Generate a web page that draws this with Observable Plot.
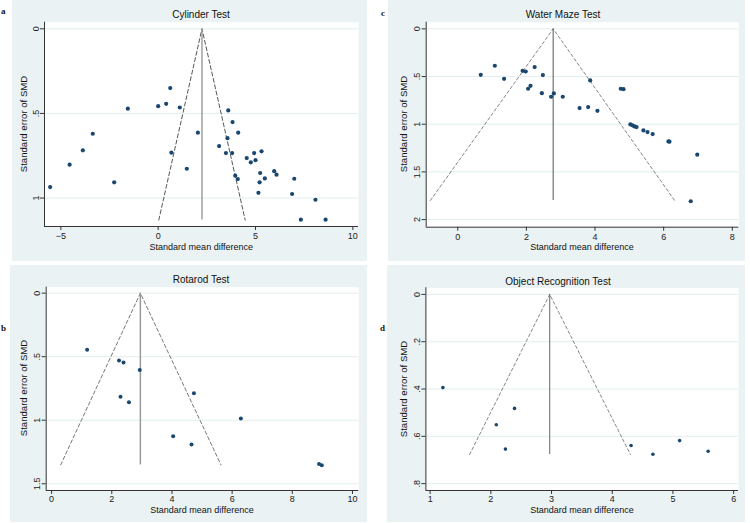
<!DOCTYPE html>
<html>
<head>
<meta charset="utf-8">
<script src="https://cdn.jsdelivr.net/npm/d3@7"></script>
<script src="https://cdn.jsdelivr.net/npm/@observablehq/plot@0.6"></script>
<style>
  html, body { margin: 0; padding: 0; background: #ffffff; }
  #root { position: relative; width: 750px; height: 523px; overflow: hidden; background: #ffffff; font-family: "Liberation Sans", Arial, sans-serif; }
  .bg { position: absolute; background: #eaf2f3; }
  .txt { position: absolute; white-space: nowrap; color: #111; transform: translate(-50%, -50%); line-height: 1; }
  .letter { position: absolute; font-family: "Liberation Serif", "Times New Roman", serif; font-weight: bold; font-size: 9px; color: #111; }
</style>
</head>
<body>
<div id="root"></div>
<script>
// ---------- Data ----------
// Panel a: Cylinder Test
const cylTitle = "Cylinder Test";
const cylSMD = [-5.55, -4.55, -3.87, -3.36, -2.26, -1.56, 0.00, 0.41, 0.62, 1.11, 0.68, 1.47, 2.04,
  3.60, 3.82, 4.11, 3.56, 3.13, 3.48, 3.80, 4.55, 4.76, 4.93, 5.00, 5.31, 3.96, 4.09, 5.24, 5.48,
  5.21, 5.96, 6.08, 6.99, 5.15, 6.88, 8.08, 7.33, 8.60];
const cylSE = [0.935, 0.803, 0.718, 0.620, 0.907, 0.472, 0.457, 0.443, 0.350, 0.465, 0.732, 0.827, 0.614,
  0.482, 0.551, 0.614, 0.646, 0.693, 0.734, 0.734, 0.764, 0.789, 0.734, 0.776, 0.724, 0.868, 0.888, 0.852, 0.884,
  0.907, 0.841, 0.862, 0.886, 0.969, 0.976, 1.010, 1.128, 1.128];
const cylFunnel = {center: 2.25, seMax: 1.13, left: 0.03, right: 4.47};
const cylXTicks = [-5, 0, 5, 10];
const cylYTicks = [0, 0.5, 1];

// Panel c: Water Maze Test
const wmTitle = "Water Maze Test";
const wmSMD = [0.67, 1.08, 1.35, 1.89, 1.98, 2.24, 2.48, 2.12, 2.05, 2.45, 2.72, 2.80, 3.06, 3.55, 3.80,
  4.07, 3.86, 4.75, 4.83, 5.03, 5.09, 5.15, 5.21, 5.41, 5.53, 5.68, 6.14, 6.17, 6.98, 6.79];
const wmSE = [0.482, 0.387, 0.524, 0.440, 0.447, 0.401, 0.485, 0.597, 0.628, 0.674, 0.712, 0.677, 0.712, 0.831, 0.820,
  0.859, 0.541, 0.628, 0.632, 1.002, 1.012, 1.023, 1.030, 1.065, 1.082, 1.103, 1.180, 1.183, 1.319, 1.808];
const wmFunnel = {center: 2.78, seMax: 1.80, left: -0.80, right: 6.32};
const wmXTicks = [0, 2, 4, 6, 8];
const wmYTicks = [0, 0.5, 1, 1.5, 2];

// Panel b: Rotarod Test
const rrTitle = "Rotarod Test";
const rrSMD = [1.18, 2.24, 2.39, 2.93, 2.29, 2.57, 4.73, 6.29, 4.04, 4.65, 8.89, 8.98];
const rrSE = [0.446, 0.530, 0.546, 0.604, 0.816, 0.858, 0.787, 0.987, 1.126, 1.192, 1.344, 1.354];
const rrFunnel = {center: 2.95, seMax: 1.352, left: 0.30, right: 5.63};
const rrXTicks = [0, 2, 4, 6, 8, 10];
const rrYTicks = [0, 0.5, 1, 1.5];

// Panel d: Object Recognition Test
const orTitle = "Object Recognition Test";
const orSMD = [1.21, 2.39, 2.09, 2.24, 4.31, 4.67, 5.11, 5.58];
const orSE = [0.394, 0.482, 0.551, 0.654, 0.639, 0.676, 0.618, 0.663];
const orFunnel = {center: 2.97, seMax: 0.677, left: 1.65, right: 4.30};
const orXTicks = [1, 2, 3, 4, 5, 6];
const orYTicks = [0, 0.2, 0.4, 0.6, 0.8];

const xLabel = "Standard mean difference";
const yLabel = "Standard error of SMD";

// ---------- Layout ----------
const root = document.getElementById("root");
const fmtY = d => d === 0 ? "0" : String(d).replace(/^0\./, ".");

function addText(cls, text, x, y, style) {
  const el = document.createElement("div");
  el.className = cls;
  el.textContent = text;
  el.style.left = x + "px";
  el.style.top = y + "px";
  Object.assign(el.style, style || {});
  root.appendChild(el);
  return el;
}

function panel(cfg) {
  const bg = document.createElement("div");
  bg.className = "bg";
  Object.assign(bg.style, {left: cfg.bg[0] + "px", top: cfg.bg[1] + "px", width: cfg.bg[2] + "px", height: cfg.bg[3] + "px"});
  root.appendChild(bg);

  const pts = cfg.smd.map((x, i) => ({x, y: cfg.se[i]}));
  const f = cfg.funnel;
  const funnelLine = [
    {x: f.left, y: f.seMax},
    {x: f.center, y: 0},
    {x: f.right, y: f.seMax}
  ];
  const svg = Plot.plot({
    width: cfg.bg[2],
    height: cfg.bg[3],
    marginLeft: cfg.m[0], marginRight: cfg.m[1], marginTop: cfg.m[2], marginBottom: cfg.m[3],
    style: {background: "transparent", fontFamily: "'Liberation Sans', Arial, sans-serif", fontSize: "9px", color: "#222", overflow: "visible"},
    x: {domain: cfg.xDomain},
    y: {domain: cfg.yDomain, reverse: true},
    marks: [
      Plot.frame({fill: "#ffffff", stroke: "none"}),
      Plot.gridY(cfg.yTicks, {stroke: "#e3edef", strokeOpacity: 1, strokeWidth: 1}),
      Plot.line(funnelLine, {x: "x", y: "y", stroke: cfg.funnelColor, strokeWidth: 0.9, strokeDasharray: cfg.dash}),
      Plot.ruleX([f.center], {y1: 0, y2: f.seMax, stroke: cfg.vColor, strokeWidth: cfg.vWidth}),
      Plot.dot(pts, {x: "x", y: "y", r: cfg.r, fill: "#1a476f", stroke: "none"}),
      Plot.ruleX([cfg.xDomain[0]], {stroke: "#333", strokeWidth: 1}),
      Plot.ruleY([cfg.yDomain[1]], {stroke: "#333", strokeWidth: 1}),
      Plot.axisX(cfg.xTicks, {label: null, tickSize: 4, tickPadding: cfg.xPad, fontSize: 9, stroke: "#333"}),
      Plot.axisY(cfg.yTicks, {label: null, tickSize: 4, tickPadding: 2, tickRotate: -90, tickFormat: fmtY, fontSize: 9, stroke: "#333"})
    ]
  });
  svg.style.position = "absolute";
  svg.style.left = cfg.bg[0] + "px";
  svg.style.top = cfg.bg[1] + "px";
  root.appendChild(svg);

  // frame geometry in page coords
  const fx0 = cfg.bg[0] + cfg.m[0], fx1 = cfg.bg[0] + cfg.bg[2] - cfg.m[1];
  const fy0 = cfg.bg[1] + cfg.m[2], fy1 = cfg.bg[1] + cfg.bg[3] - cfg.m[3];
  addText("txt", cfg.title, cfg.titleX, cfg.titleY, {fontSize: "10px"});
  addText("txt", xLabel, (fx0 + fx1) / 2, fy1 + cfg.xlabOff, {fontSize: "9px"});
  addText("txt", yLabel, fx0 - cfg.ylabOff, (fy0 + fy1) / 2, {fontSize: "9.6px", transform: "translate(-50%, -50%) rotate(-90deg)"});
  const L = document.createElement("div");
  L.className = "letter";
  L.textContent = cfg.letter;
  L.style.left = cfg.letterPos[0] + "px";
  L.style.top = cfg.letterPos[1] + "px";
  root.appendChild(L);
}

panel({
  bg: [12.3, 0, 354.4, 261], m: [32, 8.4, 21.7, 35],
  xDomain: [-5.84, 10.29], yDomain: [-0.039, 1.168],
  xTicks: cylXTicks, yTicks: cylYTicks, smd: cylSMD, se: cylSE, funnel: cylFunnel,
  funnelColor: "#444", dash: "4,2.5", vColor: "#999", vWidth: 1.4, r: 2.1, xPad: 2,
  title: cylTitle, titleX: 201, titleY: 15, xlabOff: 21, ylabOff: 20.5,
  letter: "a", letterPos: [1, 6]
});
panel({
  bg: [388, 0, 357, 261], m: [37.7, 6.7, 21.7, 34.3],
  xDomain: [-0.92, 8.19], yDomain: [-0.07, 2.08],
  xTicks: wmXTicks, yTicks: wmYTicks, smd: wmSMD, se: wmSE, funnel: wmFunnel,
  funnelColor: "#777", dash: "3,2.5", vColor: "#555", vWidth: 1, r: 2.1, xPad: 2,
  title: wmTitle, titleX: 563, titleY: 15, xlabOff: 20.5, ylabOff: 21.5,
  letter: "c", letterPos: [381, 8]
});
panel({
  bg: [10, 265, 356.7, 257], m: [35.7, 8.4, 21.7, 32],
  xDomain: [-0.18, 10.21], yDomain: [-0.047, 1.553],
  xTicks: rrXTicks, yTicks: rrYTicks, smd: rrSMD, se: rrSE, funnel: rrFunnel,
  funnelColor: "#666", dash: "3.5,2.5", vColor: "#999", vWidth: 1.5, r: 2.0, xPad: 1,
  title: rrTitle, titleX: 201, titleY: 279.5, xlabOff: 20, ylabOff: 21.7,
  letter: "b", letterPos: [1, 323]
});
panel({
  bg: [387.3, 265, 357.7, 257], m: [38.4, 6.7, 22.3, 32],
  xDomain: [0.93, 6.08], yDomain: [-0.028, 0.829],
  xTicks: orXTicks, yTicks: orYTicks, smd: orSMD, se: orSE, funnel: orFunnel,
  funnelColor: "#777", dash: "3,2.5", vColor: "#666", vWidth: 1, r: 1.8, xPad: 1,
  title: orTitle, titleX: 558, titleY: 281.5, xlabOff: 20, ylabOff: 21.7,
  letter: "d", letterPos: [380, 323]
});
</script>
</body>
</html>
